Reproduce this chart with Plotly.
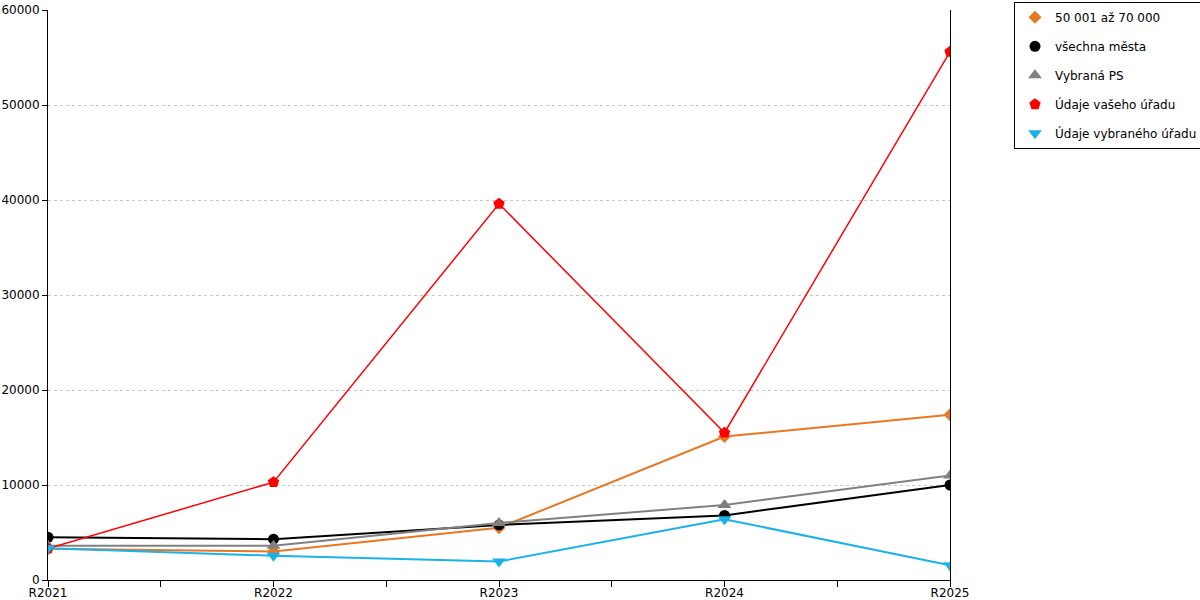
import plotly.graph_objects as go

years = ["R2021", "R2022", "R2023", "R2024", "R2025"]

mesta_50_70 = [3300, 3000, 5500, 15100, 17400]
vsechna_mesta = [4500, 4300, 5800, 6800, 10000]
vybrana_ps = [3600, 3600, 6000, 7900, 11000]
vas_urad = [3300, 10300, 39600, 15500, 55600]
vybrany_urad = [3350, 2550, 1950, 6400, 1550]

series = [
    ("50 001 až 70 000", mesta_50_70, "#E87722", "diamond", 2, 10),
    ("všechna města", vsechna_mesta, "#000000", "circle", 2, 11),
    ("Vybraná PS", vybrana_ps, "#808080", "triangle-up", 2, 12),
    ("Údaje vašeho úřadu", vas_urad, "#FF0000", "pentagon", 1.5, 12),
    ("Údaje vybraného úřadu", vybrany_urad, "#1AB2EA", "triangle-down", 2, 12),
]

xs = list(range(len(years)))

fig = go.Figure()
for i, (name, vals, col, sym, lw, ms) in enumerate(series):
    fig.add_trace(go.Scatter(
        x=xs, y=vals, name=name, mode="lines+markers", showlegend=False,
        line=dict(color=col, width=lw),
        marker=dict(color=col, symbol=sym, size=ms),
    ))
    # legend entry with marker only
    fig.add_trace(go.Scatter(
        x=[None], y=[None], name=name, mode="markers",
        legendgroup=str(i),
        marker=dict(color=col, symbol=sym, size=ms),
    ))

fig.update_xaxes(
    range=[0, len(years) - 1],
    tickvals=xs, ticktext=years,
    showgrid=False, zeroline=False, automargin=False,
    showline=True, linecolor="black", linewidth=1,
    ticks="outside", ticklen=6, tickcolor="black", ticklabelstandoff=-4,
    minor=dict(dtick=0.5, ticks="outside", ticklen=6, tickcolor="black"),
)
# mirror=True draws the plain line on the right edge as well
fig.update_yaxes(
    range=[0, 60000], dtick=10000, tickformat="d",
    showgrid=True, gridcolor="#c8c8c8", griddash="dot",
    zeroline=False, automargin=False,
    showline=True, linecolor="black", linewidth=1, mirror=True,
    ticks="outside", ticklen=5, tickcolor="black",
)

fig.update_layout(
    width=1200, height=600,
    margin=dict(l=48, r=250, t=10, b=20, autoexpand=False),
    plot_bgcolor="white", paper_bgcolor="white",
    font=dict(family="DejaVu Sans", size=12, color="black"),
    legend=dict(
        xref="container", yref="container",
        x=0.845, y=0.997, xanchor="left", yanchor="top",
        bordercolor="black", borderwidth=1,
        tracegroupgap=10, itemwidth=30,
        font=dict(size=12),
    ),
)

fig.write_html("out.html", config={"displayModeBar": False},
               post_script="document.body.style.margin='0';")
